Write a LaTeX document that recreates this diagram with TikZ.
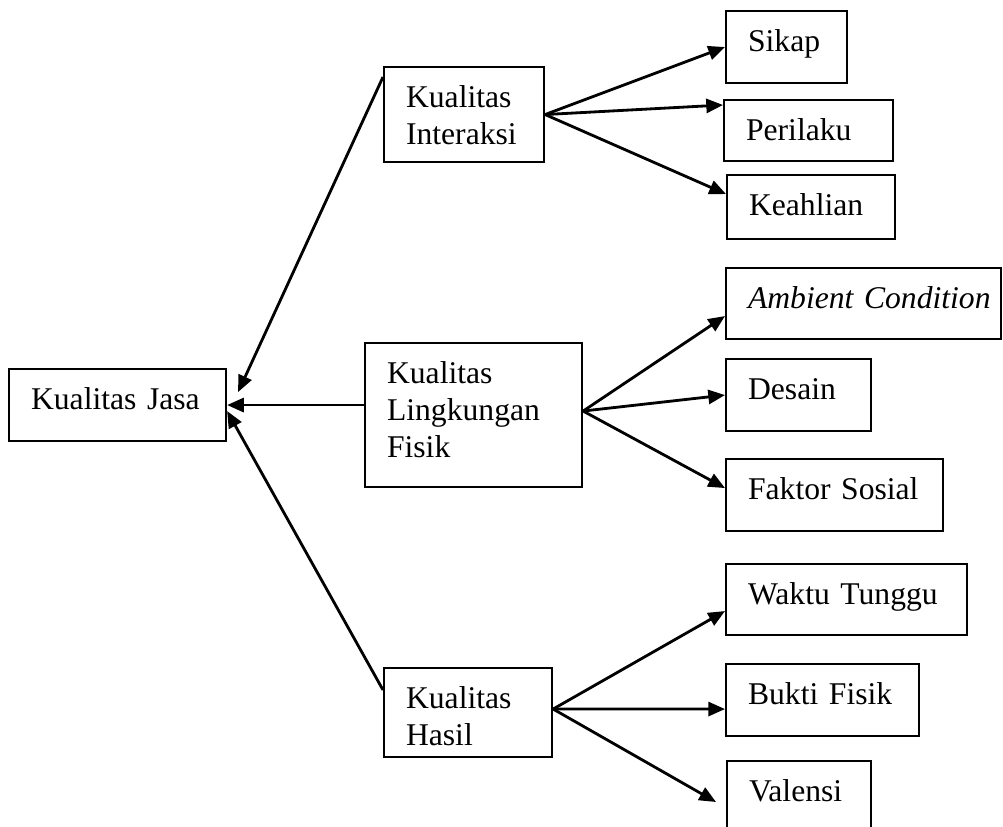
\documentclass[tikz,border=0pt]{standalone}
\usepackage{fontspec}
\setmainfont{Liberation Serif}
\usetikzlibrary{arrows.meta}
\tikzset{kotak/.style={draw, line width=1.2pt, anchor=north west, inner xsep=4.4mm, inner ysep=0pt, align=left, text height=8mm, font=\fontsize{18}{21.3}\selectfont}}
\tikzset{panah/.style={-{Triangle[length=9.5pt,width=8pt]}, line width=1.6pt}}

\begin{document}
\begin{tikzpicture}[x=0.2mm, y=-0.2mm]
\useasboundingbox (0,0) rectangle (1003,827);
\clip (0,0) rectangle (1003,827);
% pusat
\node (jasa) at (8,368)[kotak, text width=34.6mm, text depth=6.4mm]{Kualitas Jasa};
% dimensi
\node (interaksi) at (383,66)[kotak, text width=23.2mm, text depth=11mm]{Kualitas\\Interaksi};
\node (lingkungan) at (364,342)[kotak, text width=34.6mm, text depth=20.8mm]{Kualitas\\Lingkungan\\Fisik};
\node (hasil) at (383,667)[kotak, text width=24.8mm, text depth=9.8mm]{Kualitas\\Hasil};
% sub-dimensi
\node (sikap) at (725,10)[kotak, text width=15.4mm, text depth=6.4mm]{Sikap};
\node (perilaku) at (723,99)[kotak, text width=25mm, text depth=4.2mm]{Perilaku};
\node (keahlian) at (726,174)[kotak, text width=24.8mm, text depth=4.8mm]{Keahlian};
\node (ambient) at (725,267)[kotak, text width=46.2mm, text depth=6.2mm]{\mbox{\textit{Ambient Condition}}};
\node (desain) at (725,358)[kotak, text width=20.2mm, text depth=6.4mm]{Desain};
\node (faktor) at (725,458)[kotak, text width=34.6mm, text depth=6.4mm]{\mbox{Faktor Sosial}};
\node (waktu) at (725,563)[kotak, text width=39.4mm, text depth=6.2mm]{\mbox{Waktu Tunggu}};
\node (bukti) at (725,663)[kotak, text width=29.8mm, text depth=6.4mm]{\mbox{Bukti Fisik}};
\node (valensi) at (726,760)[kotak, text width=20mm, text depth=6.4mm]{Valensi};

\draw[panah] ([yshift=-2.2mm]interaksi.north west) -- ([xshift=2.2mm,yshift=2.6mm]jasa.east);
\draw[panah] (jasa.east -| lingkungan.west) -- (jasa.east);
\draw[panah] ([yshift=-4.6mm]hasil.north west) -- ([yshift=-1.2mm]jasa.east);

\draw[panah] (interaksi.east) -- (sikap.west);
\draw[panah] (interaksi.east) -- ([yshift=-1.2mm]perilaku.north west);
\draw[panah] (interaksi.east) -- ([yshift=2.6mm]keahlian.west);

\draw[panah] ([yshift=0.8mm]lingkungan.east) -- ([yshift=-2.5mm]ambient.west);
\draw[panah] ([yshift=0.8mm]lingkungan.east) -- (desain.west);
\draw[panah] ([yshift=0.8mm]lingkungan.east) -- ([yshift=1.4mm]faktor.west);

\draw[panah] ([yshift=0.7mm]hasil.east) -- ([yshift=-2.3mm]waktu.west);
\draw[panah] ([yshift=0.7mm]hasil.east) -- ([yshift=-1.8mm]bukti.west);
\draw[panah] ([yshift=0.7mm]hasil.east) -- ([xshift=-2mm,yshift=-8.4mm]valensi.north west);
\end{tikzpicture}
\end{document}
